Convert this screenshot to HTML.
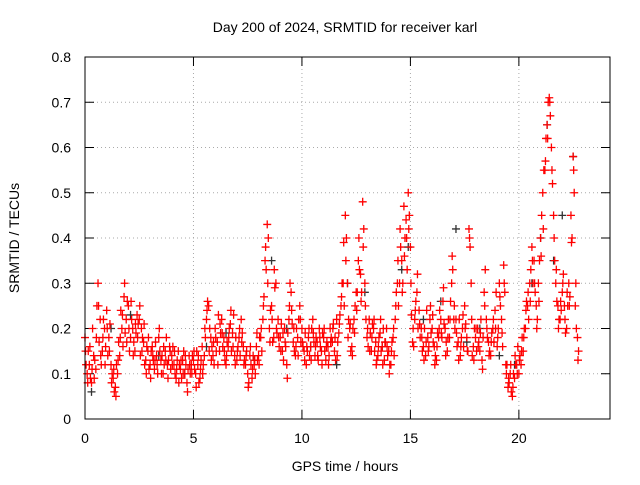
<!DOCTYPE html>
<html><head><meta charset="utf-8"><style>
body{margin:0;background:#fff}
svg{font-family:"Liberation Sans",sans-serif;font-size:14px}
</style></head><body>
<svg id="c" width="640" height="480">
<text x="345" y="32" text-anchor="middle">Day 200 of 2024, SRMTID for receiver karl</text>
<text x="345" y="471" text-anchor="middle">GPS time / hours</text>
<text transform="translate(19,238) rotate(-90)" text-anchor="middle">SRMTID / TECUs</text>
<g id="grid"></g><g id="pts"></g>
<rect x="85" y="57" width="525" height="362" fill="none" stroke="#000"/>
</svg>
<script>
const xTicks=[0,5,10,15,20];
const yTicks=[0,0.1,0.2,0.3,0.4,0.5,0.6,0.7,0.8];
const yTickLabels=["0","0.1","0.2","0.3","0.4","0.5","0.6","0.7","0.8"];
const redValues=[0.18,0.10,0.12,0.08,0.14,0.11,0.30,0.22,0.15,0.20,
0.24,0.18,0.12,0.09,0.07,0.10,0.14,0.20,0.27,0.22,
0.25,0.18,0.20,0.15,0.23,0.22,0.20,0.17,0.13,0.15,
0.12,0.16,0.11,0.14,0.18,0.13,0.10,0.15,0.12,0.16,
0.14,0.12,0.09,0.15,0.11,0.13,0.10,0.08,0.14,0.12,
0.13,0.10,0.12,0.09,0.16,0.14,0.22,0.25,0.18,0.14,
0.20,0.17,0.15,0.22,0.18,0.12,0.16,0.21,0.19,0.14,
0.13,0.18,0.22,0.16,0.12,0.10,0.14,0.09,0.12,0.16,
0.14,0.18,0.22,0.35,0.43,0.20,0.25,0.18,0.30,0.22,
0.18,0.15,0.20,0.12,0.22,0.28,0.17,0.14,0.18,0.25,
0.20,0.15,0.12,0.18,0.16,0.22,0.14,0.17,0.20,0.15,
0.18,0.13,0.16,0.20,0.17,0.15,0.22,0.19,0.25,0.30,
0.45,0.30,0.20,0.16,0.22,0.28,0.35,0.32,0.48,0.30,
0.18,0.22,0.15,0.20,0.17,0.14,0.19,0.16,0.13,0.20,
0.15,0.12,0.18,0.22,0.30,0.30,0.35,0.47,0.44,0.50,
0.38,0.17,0.22,0.28,0.24,0.20,0.16,0.14,0.18,0.22,
0.20,0.16,0.13,0.18,0.22,0.26,0.20,0.15,0.18,0.30,
0.22,0.22,0.17,0.14,0.20,0.25,0.18,0.42,0.30,0.16,
0.18,0.20,0.15,0.13,0.28,0.22,0.17,0.14,0.20,0.24,
0.16,0.30,0.22,0.34,0.12,0.07,0.10,0.05,0.09,0.12,
0.10,0.12,0.15,0.20,0.25,0.30,0.38,0.35,0.25,0.30,
0.40,0.50,0.55,0.65,0.71,0.60,0.45,0.30,0.25,0.22,
0.28,0.25,0.20,0.30,0.45,0.58,0.25,0.18];
const redValues2=[0.12,0.15,0.09,0.20,0.13,0.25,0.17,0.12,0.22,0.16,
0.14,0.21,0.10,0.06,0.12,0.17,0.24,0.16,0.19,0.26,
0.15,0.22,0.17,0.19,0.21,0.14,0.18,0.12,0.16,0.11,
0.15,0.13,0.17,0.10,0.15,0.14,0.12,0.18,0.13,0.11,
0.16,0.10,0.13,0.12,0.09,0.15,0.12,0.11,0.10,0.14,
0.11,0.15,0.08,0.13,0.12,0.18,0.26,0.20,0.16,0.12,
0.15,0.23,0.19,0.16,0.13,0.17,0.20,0.15,0.23,0.18,
0.16,0.14,0.19,0.13,0.15,0.08,0.12,0.14,0.10,0.13,
0.18,0.15,0.27,0.33,0.40,0.24,0.17,0.29,0.19,0.16,
0.21,0.13,0.16,0.19,0.30,0.21,0.15,0.20,0.22,0.17,
0.16,0.19,0.15,0.14,0.20,0.17,0.18,0.13,0.16,0.19,
0.15,0.17,0.14,0.18,0.21,0.13,0.17,0.23,0.30,0.25,
0.40,0.22,0.15,0.20,0.25,0.28,0.33,0.28,0.42,0.22,
0.16,0.19,0.21,0.15,0.13,0.18,0.15,0.20,0.17,0.14,
0.12,0.17,0.14,0.28,0.25,0.38,0.30,0.40,0.33,0.45,
0.23,0.16,0.26,0.20,0.18,0.15,0.20,0.24,0.16,0.19,
0.17,0.14,0.19,0.24,0.18,0.21,0.17,0.22,0.26,0.33,
0.20,0.16,0.22,0.18,0.16,0.21,0.15,0.38,0.14,0.20,
0.15,0.17,0.22,0.18,0.33,0.18,0.15,0.19,0.17,0.28,
0.20,0.25,0.16,0.28,0.12,0.08,0.06,0.10,0.12,0.16,
0.14,0.18,0.20,0.26,0.22,0.33,0.30,0.28,0.22,0.35,
0.45,0.55,0.62,0.70,0.67,0.52,0.35,0.26,0.22,0.24,
0.32,0.19,0.25,0.27,0.40,0.50,0.20,0.15];
const redValues3=[0.15,0.08,0.16,0.11,0.09,0.18,0.25,0.14,0.18,0.12,
0.20,0.15,0.08,0.11,0.05,0.13,0.18,0.23,0.30,0.17,
0.20,0.26,0.14,0.21,0.18,0.25,0.15,0.21,0.10,0.18,
0.09,0.14,0.13,0.12,0.20,0.10,0.16,0.13,0.09,0.15,
0.12,0.15,0.11,0.08,0.13,0.10,0.14,0.06,0.12,0.10,
0.15,0.07,0.14,0.11,0.10,0.20,0.24,0.15,0.13,0.17,
0.18,0.12,0.21,0.19,0.15,0.14,0.18,0.24,0.16,0.12,
0.15,0.20,0.17,0.12,0.14,0.07,0.16,0.11,0.13,0.19,
0.12,0.20,0.25,0.38,0.30,0.17,0.22,0.33,0.20,0.18,
0.15,0.19,0.17,0.09,0.25,0.24,0.20,0.16,0.14,0.22,
0.17,0.13,0.16,0.20,0.13,0.19,0.16,0.14,0.18,0.12,
0.20,0.16,0.12,0.17,0.20,0.18,0.14,0.21,0.27,0.39,
0.35,0.18,0.21,0.14,0.19,0.24,0.40,0.26,0.38,0.25,
0.20,0.15,0.18,0.22,0.12,0.16,0.22,0.12,0.17,0.16,
0.10,0.15,0.20,0.25,0.35,0.42,0.28,0.36,0.40,0.42,
0.30,0.20,0.24,0.32,0.21,0.18,0.13,0.17,0.15,0.25,
0.23,0.12,0.16,0.20,0.19,0.29,0.14,0.18,0.22,0.36,
0.25,0.19,0.13,0.16,0.23,0.20,0.15,0.40,0.22,0.13,
0.20,0.16,0.19,0.11,0.25,0.20,0.14,0.17,0.22,0.20,
0.18,0.27,0.19,0.30,0.10,0.09,0.12,0.07,0.14,0.10,
0.13,0.15,0.18,0.24,0.28,0.26,0.35,0.30,0.20,0.26,
0.36,0.42,0.57,0.62,0.70,0.55,0.40,0.33,0.20,0.26,
0.30,0.22,0.28,0.25,0.39,0.55,0.30,0.13];
const blackTimes=[0.3,1.2,2.1,3.4,4.6,5.6,6.5,7.8,8.6,9.3,10.4,11.6,12.1,12.9,13.7,14.6,14.9,15.6,16.4,17.1,17.6,18.2,19.1,19.8,20.6,21.0,21.3,21.6,22.0,22.5];
const blackValues=[0.06,0.20,0.23,0.14,0.10,0.16,0.19,0.13,0.35,0.20,0.16,0.12,0.30,0.28,0.16,0.33,0.38,0.22,0.26,0.42,0.17,0.20,0.14,0.12,0.30,0.40,0.65,0.35,0.45,0.58];
const X=t=>85+t*525/24.2, Y=v=>419-v*362/0.8;
const NS="http://www.w3.org/2000/svg";
const grid=document.getElementById('grid'), pts=document.getElementById('pts'), svg=document.getElementById('c');
function mk(tag,at,parent){const e=document.createElementNS(NS,tag);for(const k in at)e.setAttribute(k,at[k]);parent.appendChild(e);return e;}
xTicks.forEach(t=>{const x=X(t);
 const g=mk('line',{x1:x,x2:x,y1:57,y2:419,stroke:'#aaa','stroke-dasharray':'1,3'},grid);
 
 
 mk('line',{x1:x,x2:x,y1:419,y2:410,stroke:'#000'},grid);mk('line',{x1:x,x2:x,y1:57,y2:66,stroke:'#000'},grid);
 const l=mk('text',{x:x,y:443,'text-anchor':'middle'},svg);l.textContent=String(t);
 
 });
yTicks.forEach((v,i)=>{const y=Y(v);
 const g=mk('line',{x1:85,x2:610,y1:y,y2:y,stroke:'#aaa','stroke-dasharray':'1,3'},grid);
 
 
 mk('line',{x1:85,x2:94,y1:y,y2:y,stroke:'#000'},grid);mk('line',{x1:610,x2:601,y1:y,y2:y,stroke:'#000'},grid);
 const l=mk('text',{x:71,y:y+5,'text-anchor':'end'},svg);l.textContent=yTickLabels[i];
 
 });
function plus(t,v,col){const x=X(t),y=Y(v);
 const p=mk('path',{d:`M${x-4},${y}h8M${x},${y-4}v8`,stroke:col,'stroke-width':1.3,fill:'none'},pts);
 
 }
blackValues.forEach((v,i)=>plus(blackTimes[i],v,'#333'));
redValues.forEach((v,i)=>plus(i*0.1,v,'#f00'));
redValues2.forEach((v,i)=>plus(i*0.1+0.05,v,'#f00'));
redValues3.forEach((v,i)=>plus(i*0.1+0.025,v,'#f00'));
</script>
</body></html>
